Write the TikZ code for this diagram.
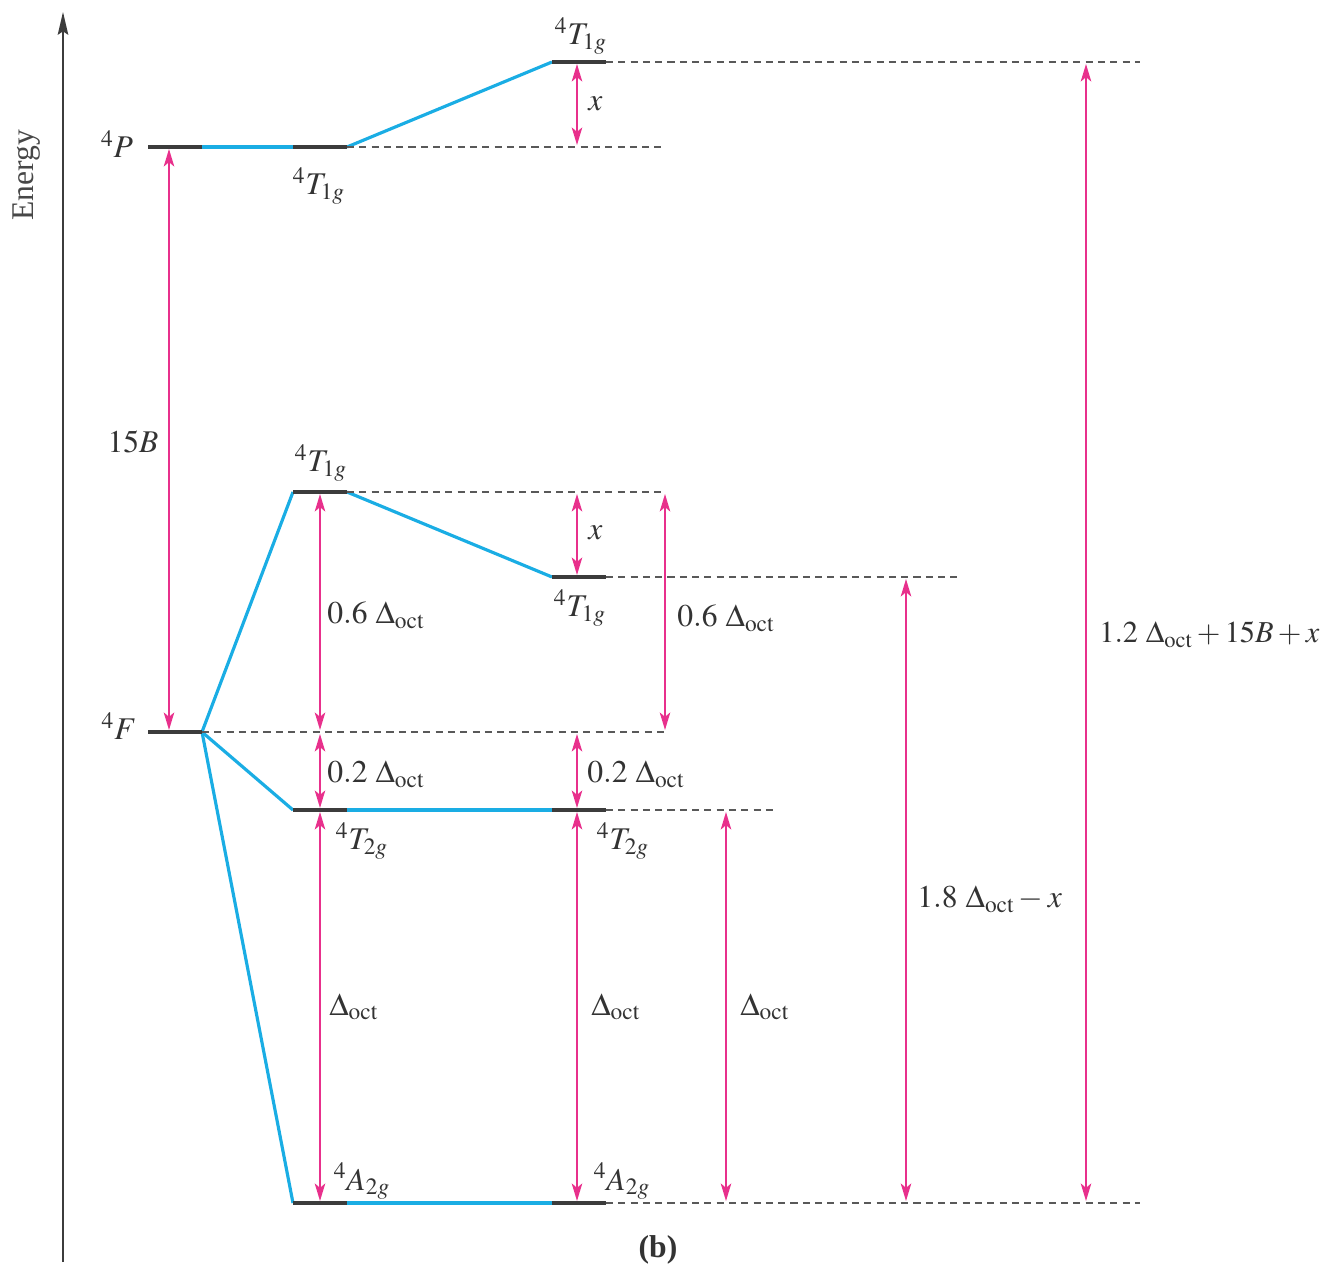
\documentclass[tikz,border=0pt]{standalone}
\usepackage{mathptmx}
\usepackage{fontspec}
\setmainfont{Liberation Serif}
\usetikzlibrary{arrows.meta}

\definecolor{linkblue}{HTML}{1AADE4}
\definecolor{dimpink}{HTML}{E8308C}
\definecolor{levelgray}{HTML}{3C3C3C}
\definecolor{inkgray}{HTML}{333333}

\tikzset{
  level/.style={line width=2.1pt, levelgray},
  link/.style={line width=1.8pt, linkblue},
  guide/.style={line width=0.6pt, levelgray!85, dash pattern=on 4pt off 3pt},
  dim/.style={line width=0.85pt, dimpink,
    {Stealth[length=10pt,width=6pt,inset=2.5pt]}-{Stealth[length=10pt,width=6pt,inset=2.5pt]}},
  lbl/.style={font=\fontsize{18}{21}\selectfont, text=inkgray, inner sep=0pt},
  term/.style={lbl, anchor=base},
  gaplbl/.style={lbl, anchor=base west}
}

\begin{document}
\begin{tikzpicture}[x=0.02cm, y=-0.02cm]
    \useasboundingbox (0,0) rectangle (1326,1266);
    % energy axis
    \draw[line width=0.9pt, levelgray, -{Stealth[length=13pt,width=6pt,inset=2pt]}] (63,1262) -- (63,12);
    \node[lbl, rotate=90, text=inkgray!90] (energy) at (27,175) {Energy};
    % level end points
    \foreach \n/\xa/\y in {P/148/147, F/148/732, aTp/293/147, aTf/293/492, aTt/293/810, aA/293/1203,
                          bTp/552/62, bTf/552/577, bTt/552/810, bA/552/1203} {
        \coordinate (\n-l) at (\xa,\y);
        \coordinate (\n-r) at (\xa+54,\y);
    }
    % correlation lines
    \draw[link] (P-r) -- (aTp-l);
    \draw[link] (aTp-r) -- (bTp-l);
    \draw[link] (F-r) -- (aTf-l);
    \draw[link] (F-r) -- (aTt-l);
    \draw[link] (F-r) -- (aA-l);
    \draw[link] (aTf-r) -- (bTf-l);
    \draw[link] (aTt-r) -- (bTt-l);
    \draw[link] (aA-r) -- (bA-l);
    % levels
    \foreach \n in {P, F, aTp, aTf, aTt, aA, bTp, bTf, bTt, bA} {
        \draw[level] (\n-l) -- (\n-r);
    }
    % dashed guides
    \coordinate (gTop) at (1140,62);
    \coordinate (gP) at (665,147);
    \coordinate (gTf) at (665,492);
    \coordinate (gF) at (665,732);
    \coordinate (gTfb) at (957,577);
    \coordinate (gTt) at (777,810);
    \coordinate (gA) at (1140,1203);
    \draw[guide] (bTp-r) -- (gTop);
    \draw[guide] (aTp-r) -- (gP);
    \draw[guide] (aTf-r) -- (gTf);
    \draw[guide] (F-r) -- (gF);
    \draw[guide] (bTf-r) -- (gTfb);
    \draw[guide] (bTt-r) -- (gTt);
    \draw[guide] (bA-r) -- (gA);
    % gap arrows
    \draw[dim] (169,149) -- (169,730);
    \draw[dim] (577,64) -- (577,145);
    \draw[dim] (577,494) -- (577,575);
    \draw[dim] (320,494) -- (320,730);
    \draw[dim] (665,494) -- (665,730);
    \draw[dim] (320,734) -- (320,808);
    \draw[dim] (577,734) -- (577,808);
    \draw[dim] (320,812) -- (320,1201);
    \draw[dim] (577,812) -- (577,1201);
    \draw[dim] (726,812) -- (726,1201);
    \draw[dim] (906,579) -- (906,1201);
    \draw[dim] (1086,64) -- (1086,1201);
    % term symbols
    \node[term] (tP) at (117,158) {$^4P$};
    \node[term] (tF) at (119,740) {$^4F$};
    \node[term] (tTp) at (319,195) {$^4T_{1g}$};
    \node[term] (tTpb) at (581,45) {$^4T_{1g}$};
    \node[term] (tTf) at (321,472) {$^4T_{1g}$};
    \node[term] (tTfb) at (580,617) {$^4T_{1g}$};
    \node[term] (tTt) at (362,850) {$^4T_{2g}$};
    \node[term] (tTtb) at (623,850) {$^4T_{2g}$};
    \node[term] (tA) at (362,1190) {$^4A_{2g}$};
    \node[term] (tAb) at (622,1190) {$^4A_{2g}$};
    % gap labels
    \node[term] (l15B) at (133,453) {$15B$};
    \node[gaplbl] (lxa) at (588,111) {$x$};
    \node[gaplbl] (lxb) at (588,540) {$x$};
    \node[gaplbl] (lsixa) at (327,624) {$0.6\ \Delta_{\mathrm{oct}}$};
    \node[gaplbl] (lsixb) at (677,627) {$0.6\ \Delta_{\mathrm{oct}}$};
    \node[gaplbl] (ltwoa) at (327,783) {$0.2\ \Delta_{\mathrm{oct}}$};
    \node[gaplbl] (ltwob) at (587,783) {$0.2\ \Delta_{\mathrm{oct}}$};
    \node[gaplbl] (lda) at (329,1015) {$\Delta_{\mathrm{oct}}$};
    \node[gaplbl] (ldb) at (591,1015) {$\Delta_{\mathrm{oct}}$};
    \node[gaplbl] (ldc) at (740,1015) {$\Delta_{\mathrm{oct}}$};
    \node[gaplbl] (lmid) at (917,908) {$1.8\ \Delta_{\mathrm{oct}} - x$};
    \node[gaplbl, font=\fontsize{17.3}{20}\selectfont] (lbig) at (1099,643) {$1.2\ \Delta_{\mathrm{oct}} + 15B + x$};
    \node[lbl, font=\fontsize{18}{21}\selectfont\bfseries] (cap) at (658,1250) {(b)};
\end{tikzpicture}
\end{document}
